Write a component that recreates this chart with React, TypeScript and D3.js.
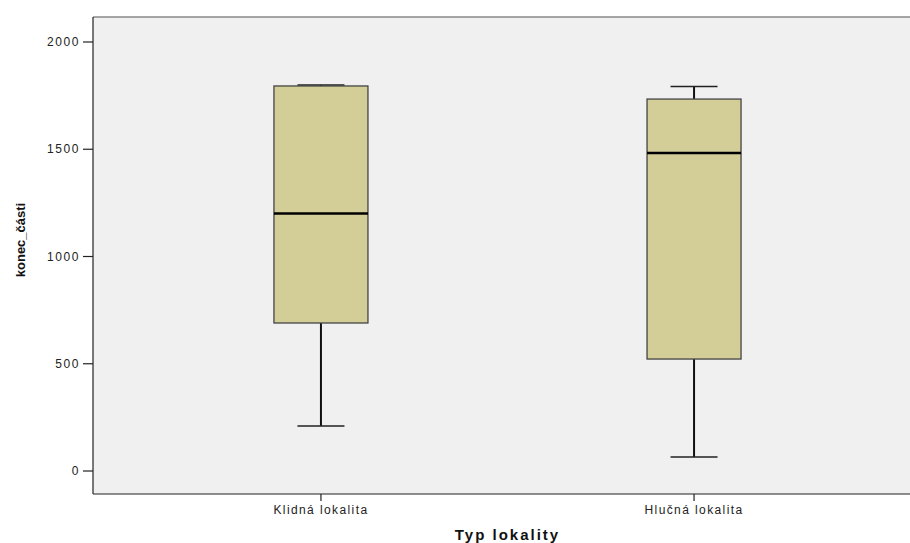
import React from "react";
import * as d3 from "d3";

const categories = ["Klidná lokalita", "Hlučná lokalita"];
const whiskerLow = [210, 65];
const q1 = [690, 522];
const median = [1200, 1482];
const q3 = [1795, 1734];
const whiskerHigh = [1800, 1792];
const yTicks = [0, 500, 1000, 1500, 2000];

const W = 910;
const H = 543;
const plotLeft = 93;
const plotRight = 922;
const plotTop = 17;
const plotBottom = 494;

export default function App() {
  const y = d3.scaleLinear().domain([0, 2000]).range([471, 42]);
  const x = d3.scalePoint<string>().domain(categories).range([plotLeft, plotRight]).padding(0.611);
  const boxW = 94;
  const capW = 47;
  const font = "Arial, 'Liberation Sans', sans-serif";
  return (
    <svg width={W} height={H} style={{ position: "absolute", left: 0, top: 0 }}>
      <rect x={0} y={0} width={W} height={H} fill="#fff" />
      <rect x={plotLeft} y={plotTop} width={plotRight - plotLeft} height={plotBottom - plotTop} fill="#f0f0f0" />
      <line x1={plotLeft} x2={plotRight} y1={plotTop} y2={plotTop} stroke="#888" strokeWidth={1.5} />
      <line x1={plotLeft} x2={plotLeft} y1={plotTop} y2={plotBottom} stroke="#222" strokeWidth={1.2} />
      <line x1={plotLeft} x2={plotRight} y1={plotBottom} y2={plotBottom} stroke="#222" strokeWidth={1.2} />
      {yTicks.map((t) => (
        <g key={t}>
          <line x1={plotLeft - 10} x2={plotLeft} y1={y(t)} y2={y(t)} stroke="#222" strokeWidth={1.2} />
          <text x={plotLeft - 13} y={y(t)} dy="0.35em" textAnchor="end" fontSize={12} letterSpacing={1.6} fill="#222" fontFamily={font}>
            {t}
          </text>
        </g>
      ))}
      {categories.map((c, i) => {
        const cx = x(c)!;
        return (
          <g key={c}>
            <line x1={cx} x2={cx} y1={y(q1[i])} y2={y(whiskerLow[i])} stroke="#111" strokeWidth={2} />
            <line x1={cx} x2={cx} y1={y(q3[i])} y2={y(whiskerHigh[i])} stroke="#111" strokeWidth={2} />
            <line x1={cx - capW / 2} x2={cx + capW / 2} y1={y(whiskerLow[i])} y2={y(whiskerLow[i])} stroke="#222" strokeWidth={1.5} />
            <line x1={cx - capW / 2} x2={cx + capW / 2} y1={y(whiskerHigh[i])} y2={y(whiskerHigh[i])} stroke="#222" strokeWidth={1.5} />
            <rect x={cx - boxW / 2} y={y(q3[i])} width={boxW} height={y(q1[i]) - y(q3[i])} fill="#d3ce98" stroke="#444" strokeWidth={1.3} />
            <line x1={cx - boxW / 2} x2={cx + boxW / 2} y1={y(median[i])} y2={y(median[i])} stroke="#000" strokeWidth={2.5} />
            <line x1={cx} x2={cx} y1={plotBottom} y2={plotBottom + 7} stroke="#222" strokeWidth={1.2} />
            <text x={cx} y={510} dy="0.35em" textAnchor="middle" fontSize={12} letterSpacing={1.4} fill="#222" fontFamily={font}>
              {c}
            </text>
          </g>
        );
      })}
      <text x={(plotLeft + plotRight) / 2} y={540} textAnchor="middle" fontSize={15} letterSpacing={2} fontWeight="bold" fill="#111" fontFamily={font}>
        Typ lokality
      </text>
      <text transform={`translate(20,240) rotate(-90)`} dy="0.35em" textAnchor="middle" fontSize={13} fontWeight="bold" fill="#111" fontFamily={font}>
        konec_části
      </text>
    </svg>
  );
}
